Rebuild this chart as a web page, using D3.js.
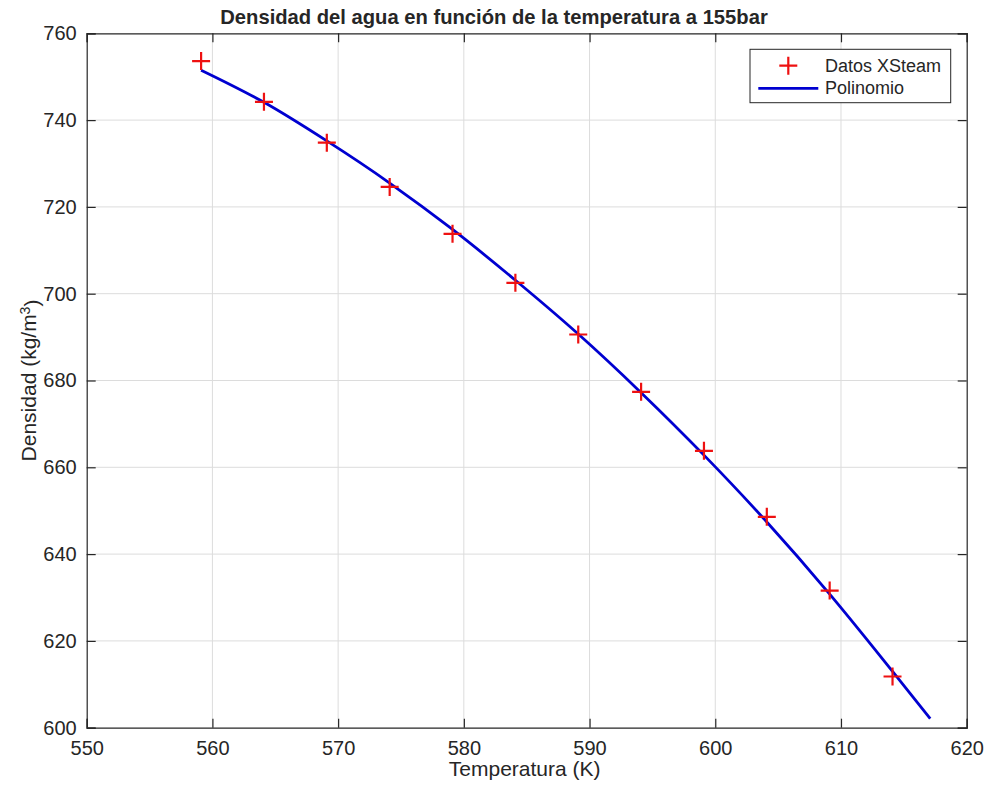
<!DOCTYPE html>
<html>
<head>
<meta charset="utf-8">
<script src="https://cdn.jsdelivr.net/npm/d3@7"></script>
<style>
  body { margin: 0; background: #fff; }
  text { font-family: "Liberation Sans", Arial, Helvetica, sans-serif; fill: #262626; }
</style>
</head>
<body>
<div id="chart"></div>
<script>
// data
var temps = [559.1, 564.1, 569.1, 574.1, 579.1, 584.1, 589.1, 594.1, 599.1, 604.1, 609.1, 614.1];
var densidad = [753.6, 744.2, 734.8, 724.6, 713.8, 702.5, 690.6, 677.4, 663.8, 648.6, 631.6, 611.8];
// fitted polynomial as seen on the plot
var polyT = [559.1, 564.1, 569.1, 574.1, 579.1, 584.1, 589.1, 594.1, 599.1, 604.1, 609.1, 614.1, 617.1];
var polyRho = [751.5, 744.1, 735.2, 725.5, 714.8, 703.1, 690.7, 677.2, 662.8, 647.4, 630.8, 613.0, 602.1];
var xTicks = [550, 560, 570, 580, 590, 600, 610, 620];
var yTicks = [600, 620, 640, 660, 680, 700, 720, 740, 760];

var width = 984;
var height = 792;
var margin = { top: 33.3, right: 17.3, bottom: 64.3, left: 86.7 };
var w = width - margin.left - margin.right;
var h = height - margin.top - margin.bottom;

var svg = d3.select("#chart").append("svg")
	.attr("width", width)
	.attr("height", height);

var g = svg.append("g")
	.attr("transform", "translate(" + margin.left + "," + margin.top + ")");

var x = d3.scaleLinear().domain([550, 620]).range([0, w]);
var y = d3.scaleLinear().domain([600, 760]).range([h, 0]);

// grid
g.append("g").selectAll("line").data(xTicks.slice(1, -1)).enter().append("line")
	.attr("x1", function(d) { return x(d); }).attr("x2", function(d) { return x(d); })
	.attr("y1", 0).attr("y2", h)
	.attr("stroke", "#dcdcdc").attr("stroke-width", 1);
g.append("g").selectAll("line").data(yTicks.slice(1, -1)).enter().append("line")
	.attr("y1", function(d) { return y(d); }).attr("y2", function(d) { return y(d); })
	.attr("x1", 0).attr("x2", w)
	.attr("stroke", "#dcdcdc").attr("stroke-width", 1);

// axes, ticks pointing inward like matlab
var tl = 9;
var xAxis = g.append("g").attr("transform", "translate(0," + h + ")")
	.call(d3.axisBottom(x).tickValues(xTicks).tickSize(-tl).tickPadding(tl + 4));
var xTop = g.append("g")
	.call(d3.axisTop(x).tickValues(xTicks).tickSize(-tl).tickFormat(""));
var yAxis = g.append("g")
	.call(d3.axisLeft(y).tickValues(yTicks).tickSize(-tl).tickPadding(tl + 1));
var yRight = g.append("g").attr("transform", "translate(" + w + ",0)")
	.call(d3.axisRight(y).tickValues(yTicks).tickSize(-tl).tickFormat(""));

[xAxis, xTop, yAxis, yRight].forEach(function(a) {
	a.select(".domain").attr("stroke", "#262626").attr("stroke-width", 1.2);
	a.selectAll(".tick line").attr("stroke", "#262626").attr("stroke-width", 1.2);
	a.selectAll(".tick text").style("font-size", "20px").attr("fill", "#262626")
		.style("font-family", "'Liberation Sans', Arial, sans-serif");
});
xAxis.selectAll(".tick text").attr("dy", "0.71em");

// polynomial line
var line = d3.line()
	.x(function(d) { return x(d[0]); })
	.y(function(d) { return y(d[1]); })
	.curve(d3.curveMonotoneX);

g.append("path")
	.datum(d3.zip(polyT, polyRho))
	.attr("d", line)
	.attr("fill", "none")
	.attr("stroke", "#0000d0")
	.attr("stroke-width", 2.8);

// data crosses
var cs = 9;
var pts = g.append("g").selectAll("g").data(d3.zip(temps, densidad)).enter().append("g")
	.attr("transform", function(d) { return "translate(" + x(d[0]) + "," + y(d[1]) + ")"; });
pts.append("path")
	.attr("d", "M" + (-cs) + ",0H" + cs + "M0," + (-cs) + "V" + cs)
	.attr("stroke", "#ee1111")
	.attr("stroke-width", 2.2)
	.attr("fill", "none");

// legend
var lg = svg.append("g").attr("transform", "translate(750,49.3)");
lg.append("rect")
	.attr("width", 200.7).attr("height", 53.4)
	.attr("fill", "#fff").attr("stroke", "#262626").attr("stroke-width", 1);
lg.append("path")
	.attr("d", "M" + (38.3 - cs) + ",16.4H" + (38.3 + cs) + "M38.3," + (16.4 - cs) + "V" + (16.4 + cs))
	.attr("stroke", "#ee1111").attr("stroke-width", 2.2);
lg.append("line")
	.attr("x1", 8.3).attr("x2", 68.3).attr("y1", 39).attr("y2", 39)
	.attr("stroke", "#0000d0").attr("stroke-width", 2.8);
lg.append("text").attr("x", 75).attr("y", 22.6).style("font-size", "18px").text("Datos XSteam");
lg.append("text").attr("x", 75).attr("y", 45).style("font-size", "18px").text("Polinomio");

// title and labels
svg.append("text")
	.attr("x", 494).attr("y", 24)
	.attr("text-anchor", "middle")
	.style("font-size", "20.2px").style("font-weight", "bold")
	.attr("fill", "#000")
	.text("Densidad del agua en función de la temperatura a 155bar");

svg.append("text")
	.attr("x", margin.left + w / 2 - 2).attr("y", 776)
	.attr("text-anchor", "middle")
	.style("font-size", "21px")
	.text("Temperatura (K)");

var yl = svg.append("text")
	.attr("transform", "translate(36," + (margin.top + h / 2) + ") rotate(-90)")
	.attr("text-anchor", "middle")
	.style("font-size", "21px");
yl.append("tspan").text("Densidad (kg/m");
yl.append("tspan").attr("dy", "-0.45em").style("font-size", "14px").text("3");
yl.append("tspan").attr("dy", "0.45em").text(")");
</script>
</body>
</html>
